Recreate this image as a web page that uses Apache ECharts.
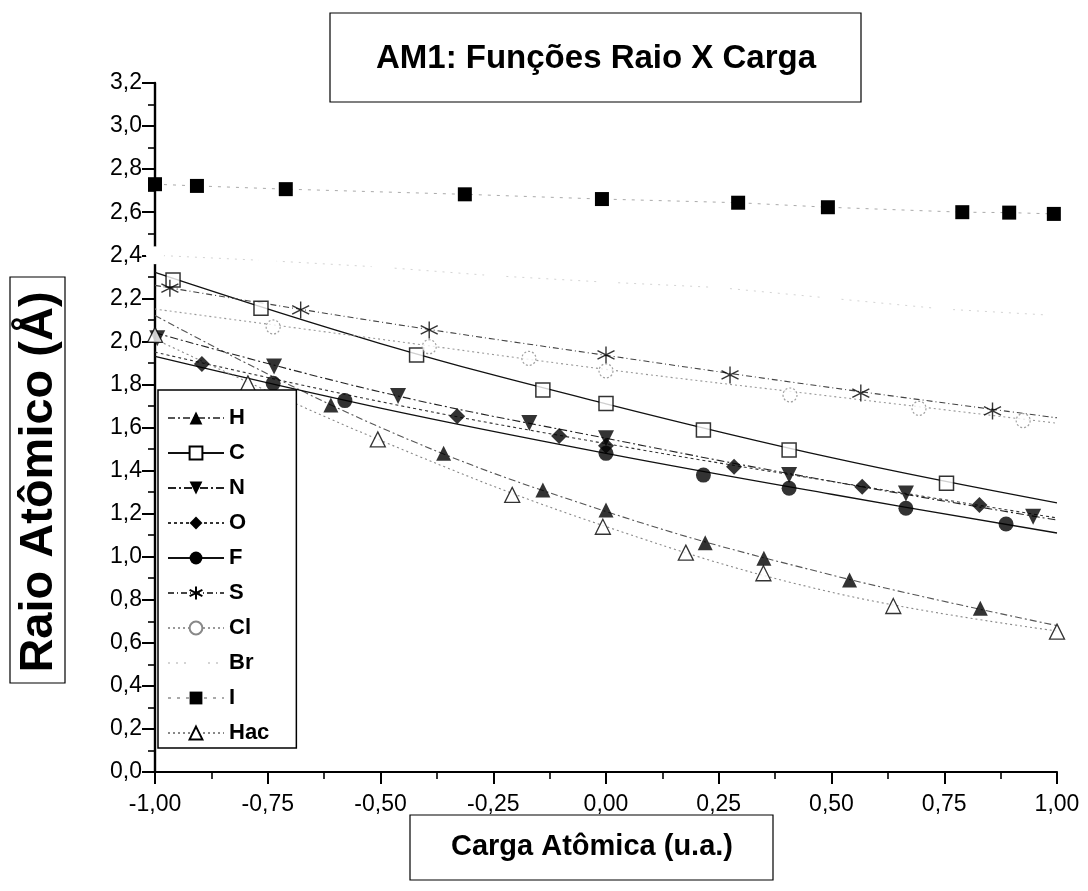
<!DOCTYPE html>
<html>
<head>
<meta charset="utf-8">
<title>AM1: Funções Raio X Carga</title>
<script src="https://cdn.jsdelivr.net/npm/echarts@6/dist/echarts.min.js"></script>
<style>
  html, body { margin: 0; padding: 0; background: #fff; }
  #chart { width: 1088px; height: 891px; }
</style>
</head>
<body>
<div id="chart"></div>
<script>
// Atomic radius (Å) against atomic charge (u.a.), AM1 results
const FONT = '"Liberation Sans Narrow","Arial Narrow","Liberation Sans",Arial,sans-serif';

// Calculated points [charge, radius]
const ptsH   = [[-0.61,1.705],[-0.36,1.48],[-0.14,1.31],[0.00,1.217],[0.22,1.065],[0.35,0.993],[0.54,0.892],[0.83,0.76]];
const ptsC   = [[-0.96,2.285],[-0.765,2.154],[-0.42,1.937],[-0.14,1.774],[0.00,1.712],[0.216,1.588],[0.406,1.495],[0.755,1.341]];
const ptsN   = [[-0.995,2.014],[-0.736,1.883],[-0.461,1.746],[-0.17,1.621],[0.00,1.55],[0.406,1.379],[0.665,1.294],[0.947,1.186]];
const ptsO   = [[-0.896,1.895],[-0.33,1.652],[-0.104,1.561],[0.00,1.515],[0.284,1.418],[0.568,1.325],[0.828,1.24]];
const ptsF   = [[-0.738,1.805],[-0.579,1.725],[0.00,1.48],[0.216,1.379],[0.406,1.318],[0.665,1.225],[0.887,1.152]];
const ptsS   = [[-0.967,2.247],[-0.677,2.146],[-0.392,2.053],[0.00,1.937],[0.275,1.844],[0.565,1.76],[0.857,1.677]];
const ptsCl  = [[-0.738,2.067],[-0.392,1.975],[-0.171,1.921],[0.00,1.863],[0.408,1.751],[0.694,1.689],[0.925,1.632]];
const ptsBr  = [[-1.00,2.40],[-0.75,2.375],[-0.50,2.345],[-0.25,2.305],[0.00,2.275],[0.25,2.25],[0.50,2.20],[0.75,2.15],[1.00,2.12]];
const ptsI   = [[-1.00,2.73],[-0.907,2.722],[-0.71,2.707],[-0.313,2.683],[-0.009,2.661],[0.293,2.644],[0.492,2.623],[0.79,2.60],[0.894,2.598],[0.993,2.592]];
const ptsHac = [[-1.00,2.03],[-0.794,1.805],[-0.506,1.545],[-0.208,1.287],[-0.007,1.139],[0.177,1.019],[0.349,0.923],[0.637,0.771],[1.00,0.652]];

// Fitted curves sampled at these charges
const fitX   = [-1, -0.5, 0, 0.5, 1];
const fitH   = [2.12, 1.60, 1.21, 0.915, 0.68];
const fitC   = [2.32, 1.99, 1.71, 1.46, 1.25];
const fitN   = [2.04, 1.765, 1.55, 1.35, 1.17];
const fitO   = [1.95, 1.72, 1.525, 1.35, 1.18];
const fitF   = [1.93, 1.69, 1.48, 1.29, 1.11];
const fitS   = [2.26, 2.09, 1.935, 1.785, 1.645];
const fitCl  = [2.15, 2.01, 1.87, 1.745, 1.62];
const fitHac = [2.01, 1.54, 1.14, 0.835, 0.655];

const legendNames = ['H', 'C', 'N', 'O', 'F', 'S', 'Cl', 'Br', 'I', 'Hac'];
const xTicks = { min: -1, max: 1, step: 0.25 };
const yTicks = { min: 0, max: 3.2, step: 0.2 };

const ASTERISK = 'path://M10,0 L10,20 M1.34,5 L18.66,15 M1.34,15 L18.66,5';

// Appearance of each element: marker + line
const styles = {
  H:   { symbol: 'triangle', size: 15, item: { color: '#000' }, line: { color: '#555', width: 1.1, type: [7, 3, 2, 3] } },
  C:   { symbol: 'rect', size: 14, item: { color: '#fff', borderColor: '#000', borderWidth: 1.5 }, line: { color: '#111', width: 1.3, type: 'solid' } },
  N:   { symbol: 'triangle', rotate: 180, size: 16, item: { color: '#000' }, line: { color: '#222', width: 1.1, type: [8, 3, 2, 3] } },
  O:   { symbol: 'diamond', size: 16, item: { color: '#000' }, line: { color: '#333', width: 1.1, type: [3, 3] } },
  F:   { symbol: 'circle', size: 15, item: { color: '#000' }, line: { color: '#111', width: 1.3, type: 'solid' } },
  S:   { symbol: ASTERISK, size: 17, item: { color: '#000', borderColor: '#000', borderWidth: 1.4 }, line: { color: '#444', width: 1.1, type: [6, 3, 1, 3] } },
  Cl:  { symbol: 'circle', size: 14, item: { color: '#fff', borderColor: '#888', borderWidth: 1.2, borderType: [2, 2] }, line: { color: '#999', width: 1.1, type: [2, 3] } },
  Br:  { symbol: 'circle', size: 18, item: { color: '#fff', borderWidth: 0 }, line: { color: '#d4d4d4', width: 1, type: [2, 6] } },
  I:   { symbol: 'rect', size: 14, item: { color: '#000' }, line: { color: '#aaa', width: 1, type: [3, 6] } },
  Hac: { symbol: 'triangle', size: 15, item: { color: '#fff', borderColor: '#000', borderWidth: 1.3 }, line: { color: '#888', width: 1.1, type: [2, 3] } }
};

const points = { H: ptsH, C: ptsC, N: ptsN, O: ptsO, F: ptsF, S: ptsS, Cl: ptsCl, Br: ptsBr, I: ptsI, Hac: ptsHac };
const fits = { H: fitH, C: fitC, N: fitN, O: fitO, F: fitF, S: fitS, Cl: fitCl, Hac: fitHac };

const series = [];
// Lines first (one per element) so the legend icon shows line + marker
legendNames.forEach(function (name) {
  const st = styles[name];
  const base = {
    name: name,
    type: 'line',
    symbol: st.symbol,
    symbolSize: st.size,
    symbolRotate: st.rotate || 0,
    itemStyle: st.item,
    lineStyle: st.line,
    animation: false,
    silent: true
  };
  if (fits[name]) {
    series.push(Object.assign(base, {
      data: fitX.map(function (x, i) { return [x, fits[name][i]]; }),
      smooth: 0.4,
      showSymbol: false,
      z: 2
    }));
  } else {
    // Br and I are joined point to point
    series.push(Object.assign(base, {
      data: points[name],
      showSymbol: true,
      z: name === 'Br' ? 1 : 3
    }));
  }
});
// Markers of the calculated points
legendNames.forEach(function (name) {
  if (!fits[name]) return;
  const st = styles[name];
  series.push({
    name: name,
    type: 'scatter',
    data: points[name],
    symbol: st.symbol,
    symbolSize: st.size,
    symbolRotate: st.rotate || 0,
    itemStyle: st.item,
    animation: false,
    silent: true,
    z: 4
  });
});

const chart = echarts.init(document.getElementById('chart'), null, { renderer: 'canvas' });
chart.setOption({
  backgroundColor: '#fff',
  animation: false,
  grid: { left: 155, right: 31, top: 83, bottom: 119, containLabel: false },
  xAxis: {
    type: 'value',
    min: xTicks.min, max: xTicks.max, interval: xTicks.step,
    axisLine: { onZero: false, lineStyle: { color: '#000', width: 2.2 } },
    axisTick: { show: true, inside: false, length: 12, lineStyle: { color: '#000', width: 2 } },
    minorTick: { show: true, splitNumber: 2, length: 7, lineStyle: { color: '#000', width: 1.6 } },
    splitLine: { show: false },
    axisLabel: {
      margin: 21, color: '#000', fontSize: 23, fontFamily: FONT,
      formatter: function (v) { return v.toFixed(2).replace('.', ','); }
    }
  },
  yAxis: {
    type: 'value',
    min: yTicks.min, max: yTicks.max, interval: yTicks.step,
    axisLine: { onZero: false, lineStyle: { color: '#000', width: 2.4 } },
    axisTick: { show: true, inside: false, length: 13, lineStyle: { color: '#000', width: 2 } },
    minorTick: { show: true, splitNumber: 2, length: 7, lineStyle: { color: '#000', width: 1.6 } },
    splitLine: { show: false },
    axisLabel: {
      margin: 13, color: '#000', fontSize: 23, fontFamily: FONT,
      formatter: function (v) { return v.toFixed(1).replace('.', ','); }
    }
  },
  legend: {
    data: legendNames,
    orient: 'vertical',
    left: 158, top: 390,
    itemWidth: 56, itemHeight: 16, itemGap: 13,
    padding: [17, 27, 4, 9],
    backgroundColor: '#fff',
    borderColor: '#000', borderWidth: 1.5, borderRadius: 0,
    selectedMode: false,
    textStyle: { color: '#000', fontSize: 22, fontWeight: 'bold', fontFamily: FONT },
    z: 10
  },
  graphic: [
    { type: 'rect', shape: { x: 330, y: 13, width: 531, height: 89 }, style: { fill: '#fff', stroke: '#000', lineWidth: 1.2 }, z: 10 },
    { type: 'text', x: 596, y: 59, style: { text: 'AM1: Funções Raio X Carga', fontSize: 33, fontWeight: 'bold', fontFamily: FONT, fill: '#000', align: 'center', verticalAlign: 'middle' }, z: 11 },
    { type: 'rect', shape: { x: 10, y: 277, width: 55, height: 406 }, style: { fill: '#fff', stroke: '#000', lineWidth: 1.2 }, z: 10 },
    { type: 'text', x: 39, y: 482, rotation: Math.PI / 2, style: { text: 'Raio Atômico (Å)', fontSize: 47, fontWeight: 'bold', fontFamily: FONT, fill: '#000', align: 'center', verticalAlign: 'middle' }, z: 11 },
    { type: 'rect', shape: { x: 410, y: 815, width: 363, height: 65 }, style: { fill: '#fff', stroke: '#000', lineWidth: 1.2 }, z: 10 },
    { type: 'text', x: 592, y: 847, style: { text: 'Carga Atômica (u.a.)', fontSize: 29, fontWeight: 'bold', fontFamily: FONT, fill: '#000', align: 'center', verticalAlign: 'middle' }, z: 11 }
  ],
  series: series
});
</script>
</body>
</html>
